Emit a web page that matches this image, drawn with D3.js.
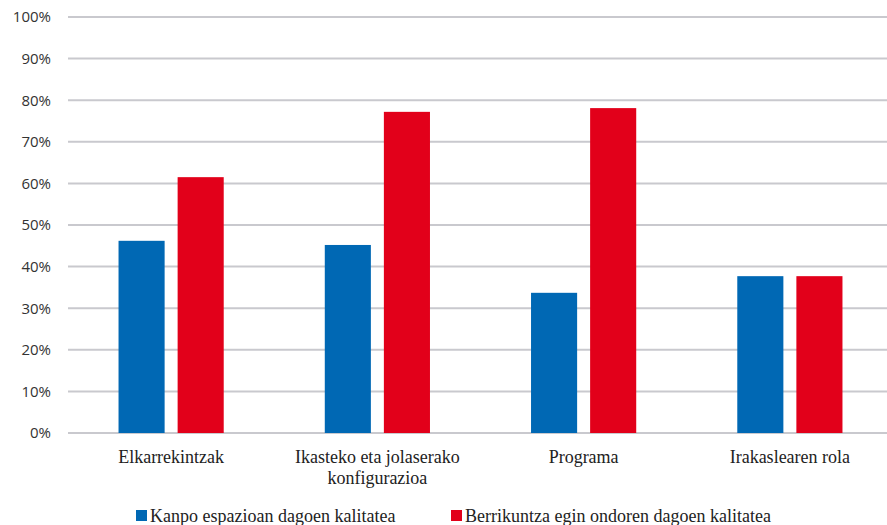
<!DOCTYPE html>
<html>
<head>
<meta charset="utf-8">
<script src="https://cdn.jsdelivr.net/npm/d3@7"></script>
<style>
    body { margin: 0; background: #fff; }
    #chart { width: 887px; height: 525px; }
</style>
</head>
<body>
<div id="chart"></div>
<script>
// Data
const categories = [
    ['Elkarrekintzak'],
    ['Ikasteko eta jolaserako', 'konfigurazioa'],
    ['Programa'],
    ['Irakaslearen rola']
];
const seriesNames = ['Kanpo espazioan dagoen kalitatea', 'Berrikuntza egin ondoren dagoen kalitatea'];
const kanpoValues = [0.462, 0.452, 0.337, 0.377];
const berrikuntzaValues = [0.615, 0.772, 0.781, 0.377];
const yTicks = [0, 0.1, 0.2, 0.3, 0.4, 0.5, 0.6, 0.7, 0.8, 0.9, 1];

const colors = ['#0068b4', '#e2001a'];
const serifFont = 'Liberation Serif, DejaVu Serif, serif';

const width = 887, height = 525;
const plotLeft = 68, plotRight = 893;
const plotTop = 17, plotBottom = 433;

const svg = d3.select('#chart')
    .append('svg')
    .attr('width', width)
    .attr('height', height);

const catKeys = categories.map(c => c.join(' '));

const x0 = d3.scaleBand()
    .domain(catKeys)
    .range([plotLeft, plotRight])
    .paddingInner(0.49)
    .paddingOuter(0.245);

const x1 = d3.scaleBand()
    .domain(seriesNames)
    .range([0, x0.bandwidth()])
    .paddingInner(0.22);

const y = d3.scaleLinear()
    .domain([0, 1])
    .range([plotBottom, plotTop]);

// Gridlines
svg.append('g')
    .selectAll('line')
    .data(yTicks)
    .join('line')
    .attr('x1', plotLeft)
    .attr('x2', width)
    .attr('y1', d => y(d))
    .attr('y2', d => y(d))
    .attr('stroke', '#c9c9ce')
    .attr('stroke-width', 2);

// Y axis labels
const yAxis = d3.axisLeft(y)
    .tickValues(yTicks)
    .tickFormat(d3.format('.0%'))
    .tickSize(0)
    .tickPadding(0);

svg.append('g')
    .attr('transform', 'translate(51,0)')
    .call(yAxis)
    .attr('font-family', 'Open Sans, sans-serif')
    .attr('font-size', 15)
    .call(g => g.select('.domain').remove())
    .selectAll('text')
    .attr('fill', '#333');

// Bars
const rows = catKeys.map((k, i) => ({
    key: k,
    values: [
        { series: seriesNames[0], value: kanpoValues[i], color: colors[0] },
        { series: seriesNames[1], value: berrikuntzaValues[i], color: colors[1] }
    ]
}));

svg.append('g')
    .selectAll('g')
    .data(rows)
    .join('g')
    .attr('transform', d => `translate(${x0(d.key)},0)`)
    .selectAll('rect')
    .data(d => d.values)
    .join('rect')
    .attr('x', d => x1(d.series))
    .attr('y', d => y(d.value))
    .attr('width', x1.bandwidth())
    .attr('height', d => plotBottom - y(d.value))
    .attr('fill', d => d.color);

// Category labels
const catLabels = svg.append('g')
    .selectAll('text')
    .data(categories)
    .join('text')
    .attr('x', (d, i) => x0(catKeys[i]) + x0.bandwidth() / 2)
    .attr('y', 463)
    .attr('text-anchor', 'middle')
    .attr('font-family', serifFont)
    .attr('font-size', 18)
    .attr('fill', '#222');

catLabels.selectAll('tspan')
    .data(d => d)
    .join('tspan')
    .attr('x', function() { return d3.select(this.parentNode).attr('x'); })
    .attr('dy', (d, i) => i === 0 ? 0 : 21)
    .text(d => d);

// Legend
const legendX = [136, 451];
const legend = svg.append('g')
    .selectAll('g')
    .data(seriesNames)
    .join('g')
    .attr('transform', (d, i) => `translate(${legendX[i]},510)`);

legend.append('rect')
    .attr('width', 11)
    .attr('height', 11)
    .attr('fill', (d, i) => colors[i]);

legend.append('text')
    .attr('x', 14)
    .attr('y', 12)
    .attr('font-family', serifFont)
    .attr('font-size', 18)
    .attr('fill', '#222')
    .text(d => d);
</script>
</body>
</html>
